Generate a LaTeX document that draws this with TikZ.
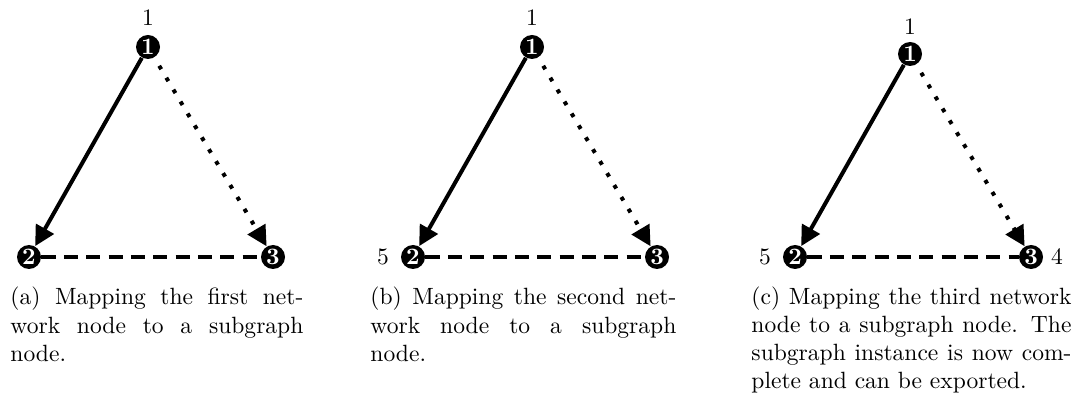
\documentclass[tikz,border=0pt]{standalone}
\usetikzlibrary{arrows.meta}
\begin{document}
\begin{tikzpicture}[x=0.425pt,y=-0.425pt,
  netnode/.style={circle,fill=black,text=white,font=\bfseries,inner sep=0pt,minimum size=10.2pt},
  solidarr/.style={line width=1.7pt,-{Triangle[length=8.5pt,width=8.5pt]}},
  dotarr/.style={line width=1.7pt,dash pattern=on 1.7pt off 4.2pt,shorten <=4pt,-{Triangle[length=8.5pt,width=8.5pt]}},
  dashln/.style={line width=1.7pt,dash pattern=on 6pt off 3.5pt},
  lbl/.style={inner sep=0pt},
  captext/.style={anchor=base west,inner sep=0pt}]
\useasboundingbox (0,0) rectangle (1076,399);

% (a)
\node[netnode] (a1) at (148,47) {1};
\node[netnode] (a2) at (29,257) {2};
\node[netnode] (a3) at (273,257) {3};
\node[lbl] (la1) at (148,18) {1};
\draw[solidarr] (a1) -- (a2);
\draw[dotarr] (a1) -- (a3);
\draw[dashln] (a2) -- (a3);
\node[captext] (capa) at (10,305) {\parbox[t]{124.5pt}{(a) Mapping the first net-\linebreak work node to a subgraph\linebreak node.}};

% (b)
\node[netnode] (b1) at (532,47) {1};
\node[netnode] (b2) at (413,257) {2};
\node[netnode] (b3) at (657,257) {3};
\node[lbl] (lb1) at (532,18) {1};
\node[lbl] (lb5) at (383,257) {5};
\draw[solidarr] (b1) -- (b2);
\draw[dotarr] (b1) -- (b3);
\draw[dashln] (b2) -- (b3);
\node[captext] (capb) at (370,305) {\parbox[t]{130pt}{(b) Mapping the second net-\linebreak work node to a subgraph\linebreak node.}};

% (c)
\node[netnode] (c1) at (910,54) {1};
\node[netnode] (c2) at (795,257) {2};
\node[netnode] (c3) at (1031,257) {3};
\node[lbl] (lc1) at (910,27) {1};
\node[lbl] (lc5) at (765,257) {5};
\node[lbl] (lc4) at (1057,257) {4};
\draw[solidarr] (c1) -- (c2);
\draw[dotarr] (c1) -- (c3);
\draw[dashln] (c2) -- (c3);
\node[captext] (capc) at (751,304) {\parbox[t]{136pt}{(c) Mapping the third network\linebreak node to a subgraph node. The\linebreak subgraph instance is now com-\linebreak plete and can be exported.}};
\end{tikzpicture}
\end{document}
